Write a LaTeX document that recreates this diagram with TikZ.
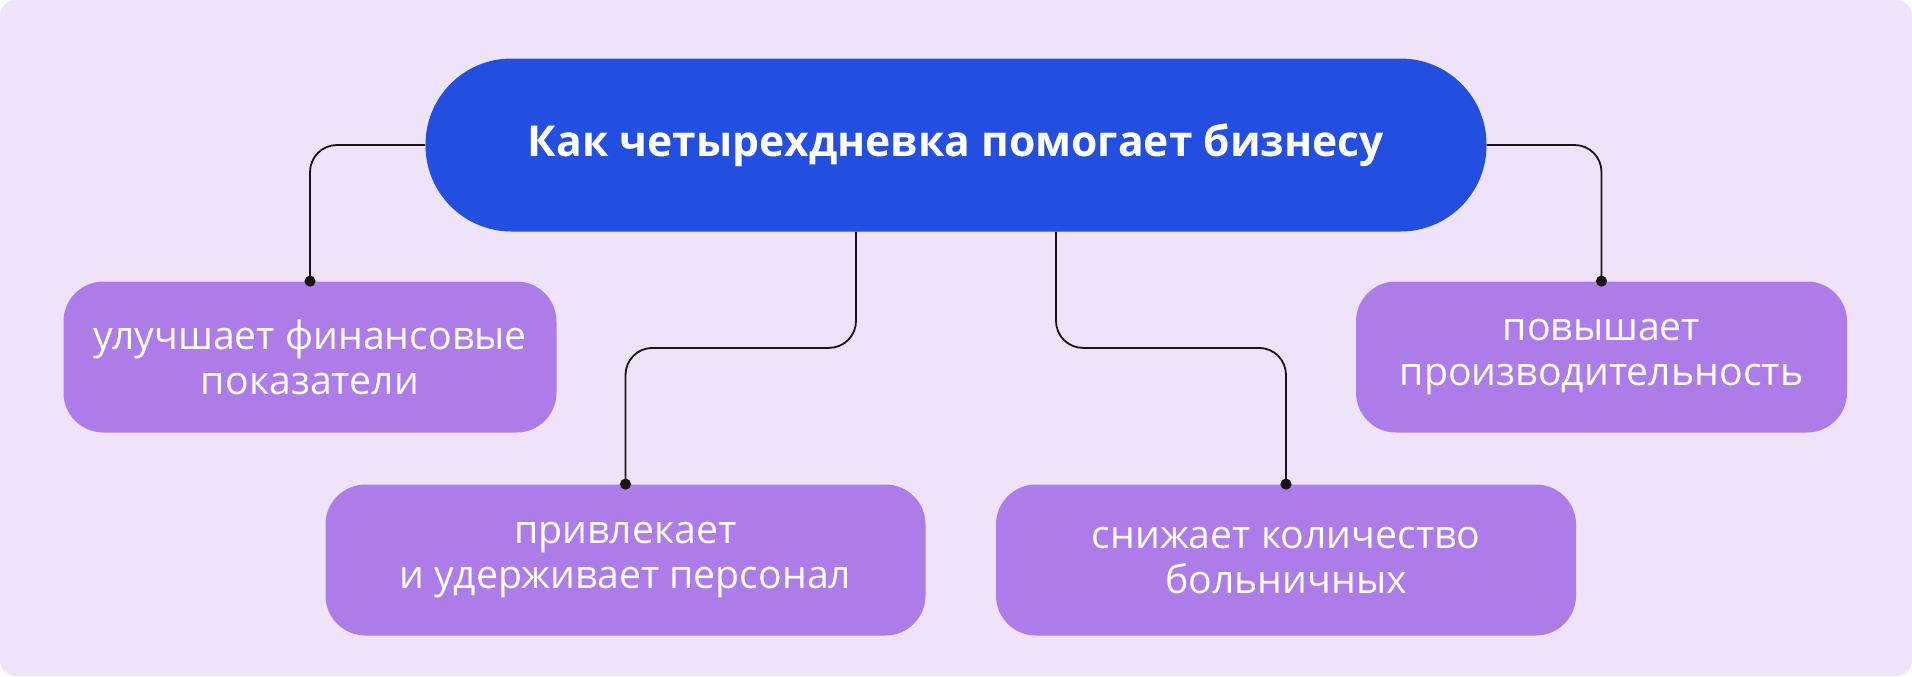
\documentclass[tikz,border=0pt]{standalone}
\usepackage{fontspec}
\setmainfont{Open Sans}
\usetikzlibrary{arrows.meta}
\definecolor{Canvas}{HTML}{EEE3F8}
\definecolor{Royal}{HTML}{234FE0}
\definecolor{Lilac}{HTML}{AE7CE8}
\definecolor{Ink}{HTML}{161418}
\tikzset{
  titlebox/.style={fill=Royal,rounded corners=43pt,minimum width=530.5pt,minimum height=86.5pt,align=center,font=\fontsize{21.3}{25}\selectfont\bfseries,text=white},
  leafbox/.style={fill=Lilac,rounded corners=20pt,minimum height=75.5pt,align=center,font=\fontsize{19.6}{22.5}\selectfont,text=white},
  link/.style={-{Circle[length=5.5pt]},shorten >=-2.75pt,draw=Ink,line width=0.9pt,rounded corners=13.5pt}
}

\begin{document}
\begin{tikzpicture}[x=0.5pt,y=-0.5pt]
  \fill[Canvas,rounded corners=8pt] (0,0) rectangle (1912,676);
  \node[titlebox] (title) at (956,145) {Как четырехдневка помогает бизнесу};
  \node[leafbox,minimum width=246.5pt] (finance) at (310,357) {улучшает финансовые\\показатели};
  \node[leafbox,minimum width=300pt] (staff) at (625.5,560) {привлекает\\и удерживает персонал};
  \node[leafbox,minimum width=290pt] (sick) at (1286,560) {снижает количество\\больничных};
  \node[leafbox,minimum width=245.5pt] (output) at (1601.5,357) {повышает\\производительность};
  \draw[link] (title.west) -| (finance.north);
  \draw[link] (title.east) -| (output.north);
  \draw[link] ([xshift=-50pt]title.south) -- ++(0,-58pt) -| (staff.north);
  \draw[link] ([xshift=50pt]title.south) -- ++(0,-58pt) -| (sick.north);
\end{tikzpicture}
\end{document}
